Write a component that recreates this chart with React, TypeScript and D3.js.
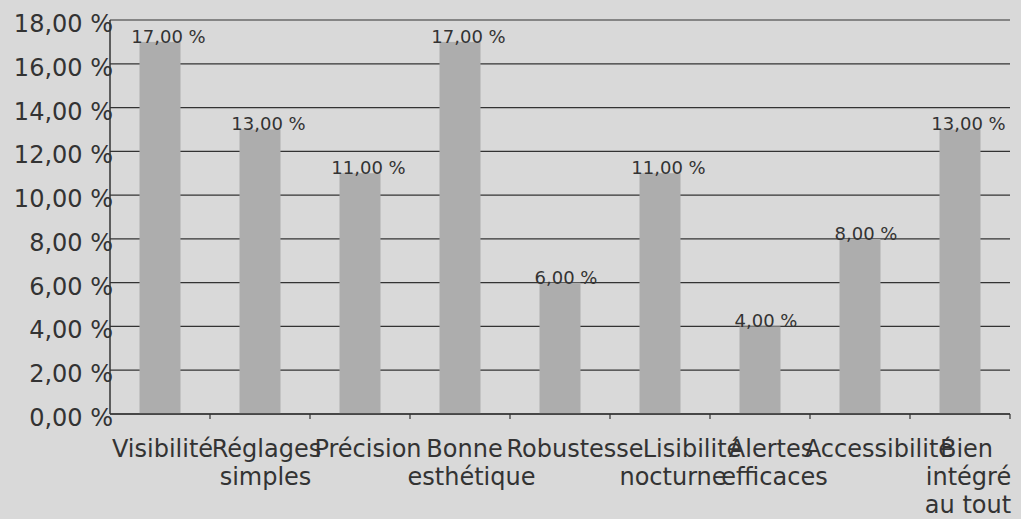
import * as d3 from "d3";

const categories: string[][] = [
  ["Visibilité"],
  ["Réglages", "simples"],
  ["Précision"],
  ["Bonne", "esthétique"],
  ["Robustesse"],
  ["Lisibilité", "nocturne"],
  ["Alertes", "efficaces"],
  ["Accessibilité"],
  ["Bien", "intégré", "au tout"],
];
const values = [17, 13, 11, 17, 6, 11, 4, 8, 13];
const yTicks = [0, 2, 4, 6, 8, 10, 12, 14, 16, 18];

// horizontal nudges of each label line, as placed in the original
const lineShift: number[][] = [
  [2.5],
  [6.5, 5.5],
  [8],
  [4.5, 11.5],
  [15],
  [32, 13],
  [11, 14.5],
  [19],
  [6.5, 8.5, 8],
];

const W = 1021;
const H = 519;
const left = 110;
const right = 1010;
const top = 20;
const bottom = 414;
const font = "DejaVu Sans, sans-serif";
const ink = "#333333";

const fmt = (v: number) => v.toFixed(2).replace(".", ",") + " %";

export default function App() {
  const keys = categories.map((c) => c.join(" "));
  const x = d3
    .scaleBand<string>()
    .domain(keys)
    .range([left, right])
    .paddingInner(0.59)
    .paddingOuter(0.295);
  const y = d3.scaleLinear().domain([0, 18]).range([bottom, top]);
  const step = x.step();

  return (
    <svg
      width={W}
      height={H}
      style={{ position: "absolute", left: 0, top: 0, background: "#d9d9d9" }}
    >
      <rect width={W} height={H} fill="#d9d9d9" />
      {/* grid */}
      {yTicks.map((t) => (
        <line
          key={"g" + t}
          x1={left}
          x2={right}
          y1={y(t)}
          y2={y(t)}
          stroke={ink}
          strokeWidth={1.2}
        />
      ))}
      {/* bars */}
      {values.map((v, i) => (
        <rect
          key={"b" + i}
          x={x(keys[i])}
          y={y(v)}
          width={x.bandwidth()}
          height={bottom - y(v)}
          fill="#adadad"
        />
      ))}
      {/* axes */}
      <line x1={left} x2={left} y1={top} y2={bottom} stroke={ink} strokeWidth={1.5} />
      <line x1={left} x2={right} y1={bottom} y2={bottom} stroke={ink} strokeWidth={1.5} />
      {keys.map((k, i) => (
        <line
          key={"t" + i}
          x1={(x(k) as number) - (step - x.bandwidth()) / 2 + step}
          x2={(x(k) as number) - (step - x.bandwidth()) / 2 + step}
          y1={bottom}
          y2={bottom + 5}
          stroke={ink}
          strokeWidth={1.2}
        />
      ))}
      {/* y labels */}
      {yTicks.map((t) => (
        <text
          key={"yl" + t}
          x={113}
          y={y(t) + 12}
          textAnchor="end"
          fontFamily={font}
          fontSize={24}
          fill={ink}
        >
          {fmt(t)}
        </text>
      ))}
      {/* value labels */}
      {values.map((v, i) => (
        <text
          key={"v" + i}
          x={(x(keys[i]) as number) + x.bandwidth() / 2 + (v >= 10 ? 8.5 : 6)}
          y={y(v) + 1}
          textAnchor="middle"
          fontFamily={font}
          fontSize={18}
          fill={ink}
        >
          {fmt(v)}
        </text>
      ))}
      {/* x labels */}
      {categories.map((lines, i) => (
        <text
          key={"xl" + i}
          textAnchor="middle"
          fontFamily={font}
          fontSize={24}
          fill={ink}
        >
          {lines.map((ln, j) => (
            <tspan
              key={j}
              x={(x(keys[i]) as number) + x.bandwidth() / 2 + lineShift[i][j]}
              y={457 + j * 28}
            >
              {ln}
            </tspan>
          ))}
        </text>
      ))}
    </svg>
  );
}
